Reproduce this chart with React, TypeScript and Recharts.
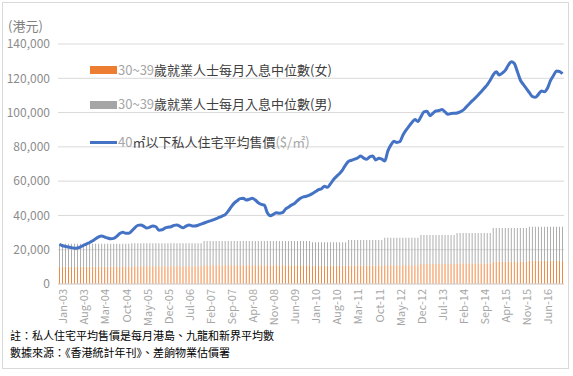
import { ComposedChart, Bar, Line, XAxis, YAxis, CartesianGrid } from "recharts";

const MONTHS = ["Jan", "Feb", "Mar", "Apr", "May", "Jun", "Jul", "Aug", "Sep", "Oct", "Nov", "Dec"];
const YEARS = ["03", "04", "05", "06", "07", "08", "09", "10", "11", "12", "13", "14", "15", "16"];

// 30~39歲就業人士每月入息中位數 (annual figures, shown for every month of the year)
const femaleIncome = [10000, 10000, 10300, 10300, 11000, 11000, 10900, 10700, 10800, 11000, 11600, 11900, 13000, 13500];
const maleIncome = [13500, 13500, 13500, 13500, 14100, 14100, 14200, 13600, 14900, 16000, 17000, 17900, 19700, 19900];

// 40㎡以下私人住宅平均售價 ($/㎡), monthly Jan-03 .. Dec-16
const smallFlatPrice = [
  23200, 22300, 21900, 21600, 21200, 20800, 21000, 21600, 22600, 23400, 24200, 25200,
  26400, 27500, 28000, 27400, 26800, 26400, 26600, 27800, 29400, 30200, 29600, 29600,
  31000, 32800, 34200, 34400, 33600, 32600, 33200, 33800, 33400, 31400, 31600, 32600,
  33100, 33400, 34200, 34400, 33600, 32800, 33800, 34400, 33900, 33800, 34300, 34900,
  35600, 36200, 36800, 37400, 38100, 38800, 39600, 40500, 42500, 45000, 47200, 48600,
  49800, 50000, 49000, 49400, 50000, 49000, 47400, 46400, 46000, 41500, 39800, 40600,
  41600, 41300, 41600, 43600, 44800, 46000, 47000, 48600, 50000, 50800, 51200, 51800,
  52800, 53900, 55000, 55600, 57000, 56400, 58500, 61000, 62800, 64500, 66600, 69500,
  71600, 72200, 72800, 73600, 74600, 73400, 72800, 74200, 74600, 72400, 73300, 72800,
  71800, 77500, 81000, 83200, 82600, 83000, 86800, 89600, 92000, 94200, 96000, 94800,
  97600, 100400, 100800, 98200, 99600, 100900, 101200, 101800, 100400, 99000, 99400, 99600,
  99800, 100400, 101400, 103200, 105000, 106800, 108400, 110200, 112200, 114200, 116200, 118800,
  122000, 123800, 121900, 123000, 124600, 127600, 129700, 128600, 124000, 119000, 116400, 114000,
  111600, 109400, 108900, 110600, 112600, 112200, 114200, 118600, 121600, 124200, 124000, 122600,
];

const yTicks = [0, 20000, 40000, 60000, 80000, 100000, 120000, 140000];

const data = smallFlatPrice.map((price, i) => {
  const y = Math.floor(i / 12);
  return {
    month: `${MONTHS[i % 12]}-${YEARS[y]}`,
    female: femaleIncome[y],
    male: maleIncome[y],
    price,
  };
});

const FONT = "'Noto Sans CJK TC', 'Noto Sans', sans-serif";

const legendText = { position: "absolute" as const, left: 118, fontSize: 13, color: "#404040", lineHeight: "16px", whiteSpace: "nowrap" as const };
const faded = { color: "#a6a6a6" };

export default function App() {
  return (
    <div style={{ position: "absolute", left: 0, top: 0, width: 573, height: 376, background: "#fff", fontFamily: FONT }}>
      <div style={{ position: "absolute", left: 2, top: 2, width: 565, height: 365, border: "1px solid #d9d9d9" }} />
      <ComposedChart
        width={573}
        height={376}
        data={data}
        margin={{ top: 44, right: 9, bottom: 47, left: 8 }}
        barCategoryGap="35%"
      >
        <CartesianGrid vertical={false} stroke="#d9d9d9" />
        <XAxis
          dataKey="month"
          interval={6}
          height={45}
          tick={{
            angle: -90,
            textAnchor: "end",
            verticalAnchor: "middle",
            fontSize: 11,
            fill: "#a6a6a6",
            fontFamily: FONT,
          }}
          tickLine={false}
          tickSize={3}
          axisLine={{ stroke: "#d9d9d9" }}
        />
        <YAxis
          width={50}
          domain={[0, 140000]}
          ticks={yTicks}
          tickFormatter={(v: number) => v.toLocaleString("en-US")}
          tick={{ fontSize: 12, fill: "#8c8c8c", fontFamily: FONT }}
          tickLine={false}
          axisLine={false}
        />
        <Bar dataKey="female" stackId="inc" fill="#ed7d31" isAnimationActive={false} />
        <Bar dataKey="male" stackId="inc" fill="#a5a5a5" isAnimationActive={false} />
        <Line
          dataKey="price"
          type="monotone"
          stroke="#4472c4"
          strokeWidth={3}
          dot={false}
          isAnimationActive={false}
        />
      </ComposedChart>

      <div style={{ position: "absolute", left: 8, top: 18, fontSize: 13, lineHeight: "15px", color: "#7f7f7f" }}>(港元)</div>

      <div style={{ position: "absolute", left: 90, top: 66, width: 27, height: 8, background: "#ed7d31" }} />
      <div style={{ ...legendText, top: 62 }}>
        <span style={faded}>30~39</span>歲就業人士每月入息中位數(女)
      </div>
      <div style={{ position: "absolute", left: 90, top: 101, width: 27, height: 8, background: "#a5a5a5" }} />
      <div style={{ ...legendText, top: 96 }}>
        <span style={faded}>30~39</span>歲就業人士每月入息中位數(男)
      </div>
      <div style={{ position: "absolute", left: 90, top: 141, width: 27, height: 3, background: "#4472c4" }} />
      <div style={{ ...legendText, top: 134 }}>
        <span style={faded}>40</span>㎡以下私人住宅平均售價<span style={faded}>($/㎡)</span>
      </div>

      <div style={{ position: "absolute", left: 10, top: 327, fontSize: 11, color: "#000", lineHeight: "17px" }}>
        <div>註：私人住宅平均售價是每月港島、九龍和新界平均數</div>
        <div>數據來源：《香港統計年刊》、差餉物業估價署</div>
      </div>
    </div>
  );
}
